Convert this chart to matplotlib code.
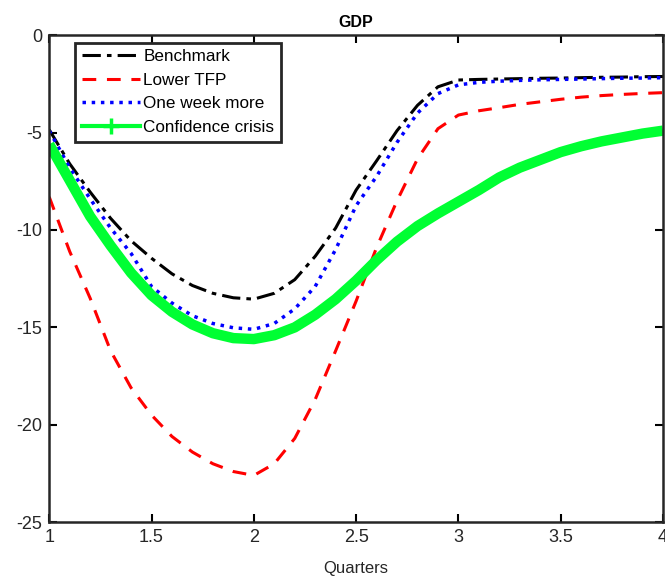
import numpy as np
import matplotlib.pyplot as plt
from matplotlib.lines import Line2D

plt.rcParams['font.family'] = ['Liberation Sans', 'DejaVu Sans']
plt.rcParams['axes.unicode_minus'] = False

# quarters, read at steps of 0.1
quarters = np.round(np.arange(1.0, 4.01, 0.1), 1)

benchmark = [-4.85, -6.6, -8.05, -9.4, -10.55, -11.45, -12.25, -12.85, -13.25, -13.48,
             -13.55, -13.25, -12.55, -11.35, -9.9, -7.95, -6.45, -4.9, -3.6, -2.65,
             -2.3, -2.27, -2.25, -2.23, -2.21, -2.2, -2.18, -2.16, -2.15, -2.13, -2.12]
lower_tfp = [-8.3, -11.1, -13.5, -16.2, -18.1, -19.5, -20.6, -21.4, -22.0, -22.4,
             -22.6, -22.0, -20.7, -18.7, -16.2, -13.65, -10.9, -8.5, -6.35, -4.8,
             -4.1, -3.88, -3.72, -3.55, -3.42, -3.29, -3.18, -3.1, -3.04, -2.99, -2.95]
one_week_more = [-4.9, -6.8, -8.4, -9.9, -11.2, -12.9, -13.75, -14.4, -14.8, -15.02,
                 -15.1, -14.8, -14.05, -12.9, -11.0, -8.75, -7.25, -5.5, -4.0, -3.0,
                 -2.55, -2.42, -2.36, -2.32, -2.29, -2.27, -2.25, -2.23, -2.21, -2.2, -2.18]
confidence = [-5.6, -7.45, -9.3, -10.8, -12.2, -13.35, -14.2, -14.85, -15.3, -15.55,
              -15.6, -15.4, -15.0, -14.35, -13.55, -12.6, -11.55, -10.6, -9.8, -9.15,
              -8.55, -7.95, -7.3, -6.8, -6.4, -6.0, -5.7, -5.45, -5.25, -5.05, -4.9]

fig = plt.figure(figsize=(6.65, 5.77), dpi=100)
ax = fig.add_axes([0.074, 0.095, 0.923, 0.844])

ax.plot(quarters, benchmark, '-.', color='black', lw=2.2, dashes=(6, 2, 1.5, 2))
ax.plot(quarters, lower_tfp, '--', color='red', lw=2.2, dashes=(4.5, 3.5))
ax.plot(quarters, one_week_more, ':', color='blue', lw=2.5)
ax.plot(quarters, confidence, '-', color='#00ff33', lw=7.5,
        solid_capstyle='butt', solid_joinstyle='round')

ax.set_xlim(1, 4)
ax.set_ylim(-25, 0)
ax.set_xticks([1, 1.5, 2, 2.5, 3, 3.5, 4])
ax.set_xticklabels(['1', '1.5', '2', '2.5', '3', '3.5', '4'])
ax.set_yticks([0, -5, -10, -15, -20, -25])
ax.tick_params(direction='in', top=True, right=True, length=6, width=1.5,
               labelsize=13, labelcolor='#262626', pad=5)
for s in ax.spines.values():
    s.set_linewidth(1.8)
    s.set_color('#262626')

ax.set_title('GDP', fontweight='bold', fontsize=11.5, pad=6)
ax.set_xlabel('Quarters', fontsize=12, color='#262626', labelpad=11)

handles = [
    Line2D([], [], ls='-.', color='black', lw=2.2, dashes=(6, 2, 1.5, 2)),
    Line2D([], [], ls='--', color='red', lw=2.2, dashes=(4.5, 3.5)),
    Line2D([], [], ls=':', color='blue', lw=2.5),
    Line2D([], [], ls='-', color='#00ff33', lw=3, marker='+', ms=11, mew=2.5),
]
labels = ['Benchmark', 'Lower TFP', 'One week more', 'Confidence crisis']
leg = ax.legend(handles, labels, loc='upper left', bbox_to_anchor=(0.042, 0.985),
                fontsize=12.3, handlelength=3.4, handletextpad=0.2, borderpad=0.4,
                labelspacing=0.5, fancybox=False, framealpha=1, edgecolor='#262626',
                numpoints=1, borderaxespad=0)
leg.get_frame().set_linewidth(2)

fig.savefig('out.png', dpi=100)
